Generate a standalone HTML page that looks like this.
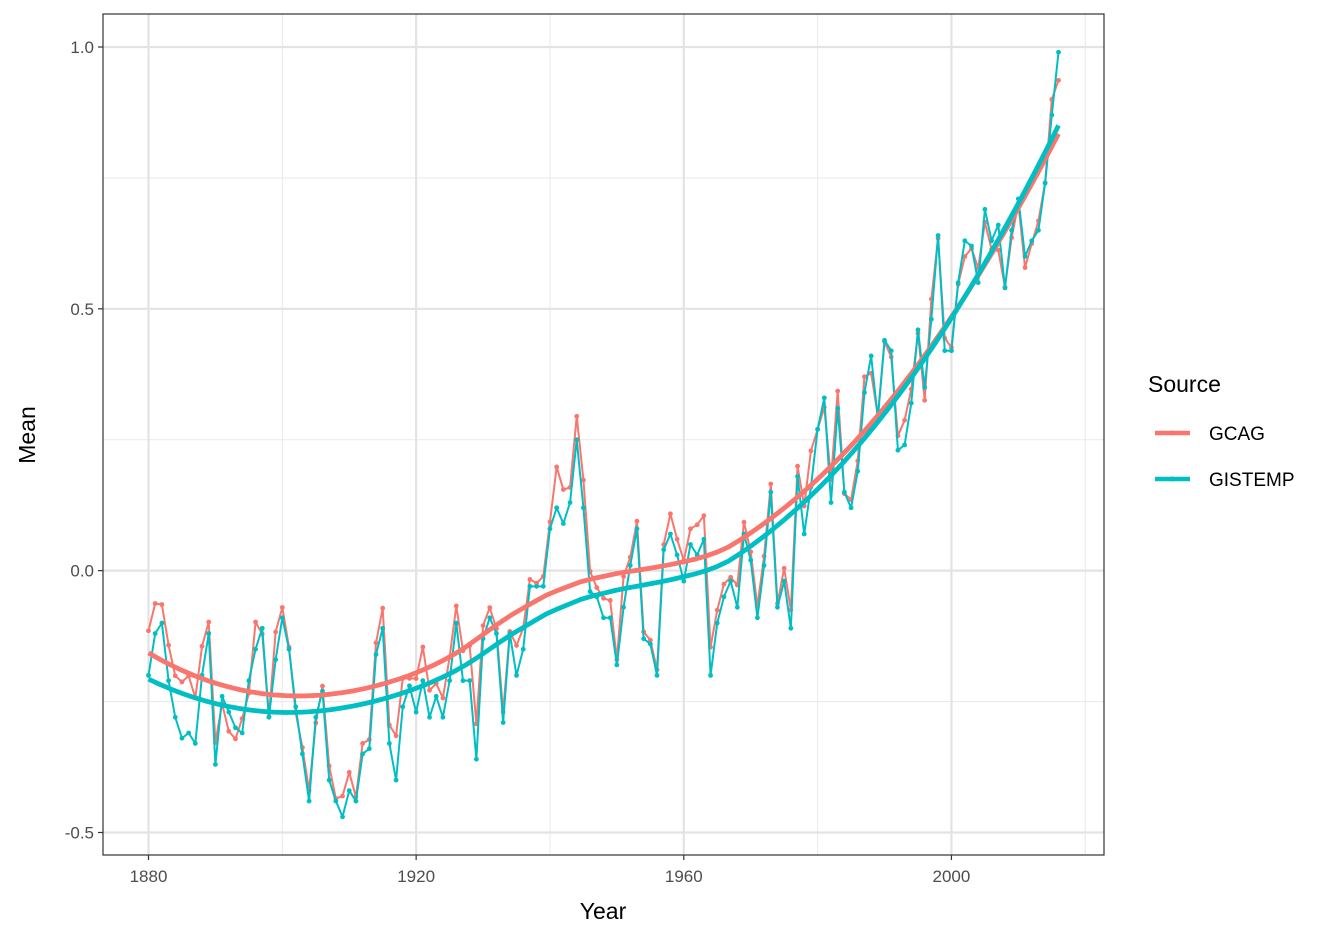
<!DOCTYPE html>
<html><head><meta charset="utf-8">
<style>
body{margin:0;background:#fff;}
svg{display:block;font-family:"Liberation Sans",Arial,sans-serif;}
</style></head>
<body>
<svg id="chart" width="1344" height="940" viewBox="0 0 1344 940">
<rect width="1344" height="940" fill="#fff"/>
<g id="grid"></g>
<g id="series"></g>
<rect x="103" y="14" width="1001" height="841" fill="none" stroke="#333" stroke-width="1.2"/>
<g id="axes"></g>
<text x="603" y="919" font-size="23" text-anchor="middle" fill="#000">Year</text>
<text transform="translate(35,435) rotate(-90)" font-size="23" text-anchor="middle" fill="#000">Mean</text>
<g>
<text x="1148" y="392" font-size="23" fill="#000">Source</text>
<g>
<line x1="1155" y1="433" x2="1190" y2="433" stroke="#F8766D" stroke-width="4.5"/>
<circle cx="1172.5" cy="433" r="2.5" fill="#F8766D"/>
<text x="1209" y="440" font-size="19" fill="#000">GCAG</text>
</g>
<g>
<line x1="1155" y1="479" x2="1190" y2="479" stroke="#00BFC4" stroke-width="4.5"/>
<circle cx="1172.5" cy="479" r="2.5" fill="#00BFC4"/>
<text x="1209" y="486" font-size="19" fill="#000">GISTEMP</text>
</g>
</g>
</svg>
<script>
const startYear = 1880;
const gcag = [-0.1148,-0.0628,-0.0648,-0.1424,-0.2009,-0.2125,-0.2009,-0.2431,-0.1445,-0.0981,-0.3283,-0.2541,-0.3068,-0.3212,-0.2825,-0.2337,-0.0982,-0.1209,-0.2783,-0.1170,-0.0703,-0.1460,-0.2715,-0.3377,-0.4197,-0.2907,-0.2204,-0.3729,-0.4352,-0.4304,-0.3851,-0.4321,-0.3299,-0.3226,-0.1379,-0.0716,-0.2951,-0.3152,-0.2057,-0.2057,-0.2060,-0.1458,-0.2284,-0.2155,-0.2433,-0.1654,-0.0673,-0.1530,-0.1430,-0.2926,-0.1050,-0.0706,-0.1108,-0.2700,-0.1161,-0.1428,-0.1100,-0.0167,-0.0239,-0.0110,0.0931,0.1981,0.1549,0.1590,0.2948,0.1730,-0.0013,-0.0324,-0.0528,-0.0568,-0.1700,-0.0112,0.0256,0.0945,-0.1168,-0.1326,-0.1892,0.0499,0.1085,0.0601,0.0192,0.0799,0.0876,0.1050,-0.1462,-0.0752,-0.0257,-0.0127,-0.0273,0.0926,0.0359,-0.0679,0.0276,0.1655,-0.0629,0.0045,-0.0750,0.1996,0.1236,0.2288,0.2699,0.3120,0.1742,0.3429,0.1470,0.1355,0.2099,0.3703,0.3770,0.2967,0.4370,0.4079,0.2575,0.2871,0.3467,0.4532,0.3253,0.5186,0.6346,0.4440,0.4263,0.5468,0.5998,0.6152,0.5776,0.6654,0.6139,0.6121,0.5415,0.6359,0.7008,0.5788,0.6246,0.6679,0.7408,0.8998,0.9363];
const gistemp = [-0.20,-0.12,-0.10,-0.21,-0.28,-0.32,-0.31,-0.33,-0.20,-0.12,-0.37,-0.24,-0.27,-0.30,-0.31,-0.21,-0.15,-0.11,-0.28,-0.17,-0.09,-0.15,-0.26,-0.35,-0.44,-0.28,-0.23,-0.40,-0.44,-0.47,-0.42,-0.44,-0.35,-0.34,-0.16,-0.11,-0.33,-0.40,-0.26,-0.22,-0.27,-0.21,-0.28,-0.24,-0.28,-0.21,-0.10,-0.21,-0.21,-0.36,-0.13,-0.09,-0.12,-0.29,-0.12,-0.20,-0.15,-0.03,-0.03,-0.03,0.08,0.12,0.09,0.13,0.25,0.12,-0.04,-0.05,-0.09,-0.09,-0.18,-0.07,0.01,0.08,-0.13,-0.14,-0.20,0.04,0.07,0.03,-0.02,0.05,0.03,0.06,-0.20,-0.10,-0.05,-0.02,-0.07,0.07,0.02,-0.09,0.01,0.15,-0.07,-0.02,-0.11,0.18,0.07,0.16,0.27,0.33,0.13,0.31,0.15,0.12,0.19,0.34,0.41,0.29,0.44,0.42,0.23,0.24,0.32,0.46,0.35,0.48,0.64,0.42,0.42,0.55,0.63,0.62,0.55,0.69,0.63,0.66,0.54,0.65,0.71,0.60,0.63,0.65,0.74,0.87,0.99];
const xTicks = [1880,1920,1960,2000];
const xMinor = [1900,1940,1980,2020];
const yTicks = [-0.5,0.0,0.5,1.0];
const yTickLabels = ["-0.5","0.0","0.5","1.0"];
const yMinor = [-0.25,0.25,0.75];

const NS="http://www.w3.org/2000/svg";
const years = gcag.map((_,i)=>startYear+i);
const allV = gcag.concat(gistemp);
const xmin0=years[0], xmax0=years[years.length-1];
const ymin0=Math.min(...allV), ymax0=Math.max(...allV);
const xPad=(xmax0-xmin0)*0.05, yPad=(ymax0-ymin0)*0.05;
const PL=103,PR=1104,PT=14,PB=855;
const X=v=>PL+(v-(xmin0-xPad))/((xmax0+xPad)-(xmin0-xPad))*(PR-PL);
const Y=v=>PB-(v-(ymin0-yPad))/((ymax0+yPad)-(ymin0-yPad))*(PB-PT);
function mk(tag,attrs,parent){const e=document.createElementNS(NS,tag);for(const k in attrs)e.setAttribute(k,attrs[k]);parent.appendChild(e);return e;}
const grid=document.getElementById('grid'), axes=document.getElementById('axes'), series=document.getElementById('series');

yMinor.forEach(v=>{const l=mk('line',{x1:PL,x2:PR,y1:Y(v),y2:Y(v),stroke:'#ebebeb','stroke-width':1.1},grid);

});
xMinor.forEach(v=>{const l=mk('line',{x1:X(v),x2:X(v),y1:PT,y2:PB,stroke:'#ebebeb','stroke-width':1.1},grid);

});
yTicks.forEach((v,i)=>{const l=mk('line',{x1:PL,x2:PR,y1:Y(v),y2:Y(v),stroke:'#e3e3e3','stroke-width':2.2},grid);


const t=mk('line',{x1:PL-5,x2:PL,y1:Y(v),y2:Y(v),stroke:'#333','stroke-width':1.2},axes);


const tx=mk('text',{x:PL-9,y:Y(v)+6,'font-size':17,'text-anchor':'end',fill:'#4d4d4d'},axes);
tx.textContent=yTickLabels[i];

});
xTicks.forEach(v=>{const l=mk('line',{x1:X(v),x2:X(v),y1:PT,y2:PB,stroke:'#e3e3e3','stroke-width':2.2},grid);


const t=mk('line',{x1:X(v),x2:X(v),y1:PB,y2:PB+5,stroke:'#333','stroke-width':1.2},axes);


const tx=mk('text',{x:X(v),y:PB+27,'font-size':17,'text-anchor':'middle',fill:'#4d4d4d'},axes);
tx.textContent=String(v);

});

function loess(xs,ys,span,xq){
  const n=xs.length,q=Math.floor(span*n);
  return xq.map(x0=>{
    const d=xs.map(x=>Math.abs(x-x0));const ds=d.slice().sort((a,b)=>a-b);const h=ds[q-1]*(span>1?span:1)||1;
    let S=[[0,0,0],[0,0,0],[0,0,0]],B=[0,0,0];
    for(let i=0;i<n;i++){let u=d[i]/h;if(u>=1)continue;const w=Math.pow(1-u*u*u,3);const t=xs[i]-x0;const p=[1,t,t*t];
      for(let a=0;a<3;a++){B[a]+=w*p[a]*ys[i];for(let b=0;b<3;b++)S[a][b]+=w*p[a]*p[b];}}
    // solve 3x3
    const M=S.map((r,i)=>r.concat([B[i]]));
    for(let c=0;c<3;c++){let p=c;for(let r=c+1;r<3;r++)if(Math.abs(M[r][c])>Math.abs(M[p][c]))p=r;[M[c],M[p]]=[M[p],M[c]];
      for(let r=0;r<3;r++){if(r===c)continue;const f=M[r][c]/M[c][c];for(let k=c;k<4;k++)M[r][k]-=f*M[c][k];}}
    return M[0][3]/M[0][0];
  });
}
const cols={gcag:'#F8766D',gistemp:'#00BFC4'};
[['gcag',gcag],['gistemp',gistemp]].forEach(([name,vals])=>{
  const p=mk('polyline',{points:vals.map((v,i)=>X(years[i])+','+Y(v)).join(' '),fill:'none',stroke:cols[name],'stroke-width':2,'stroke-linejoin':'round'},series);
  
  
  vals.forEach((v,i)=>{const c=mk('circle',{cx:X(years[i]),cy:Y(v),r:2.4,fill:cols[name]},series);
    
    });
});
[['gcag',gcag],['gistemp',gistemp]].forEach(([name,vals])=>{
  const xq=[];for(let i=0;i<=80;i++)xq.push(xmin0+(xmax0-xmin0)*i/80);
  const sm=loess(years,vals,0.75,xq);
  const p=mk('polyline',{points:xq.map((x,i)=>X(x)+','+Y(sm[i])).join(' '),fill:'none',stroke:cols[name],'stroke-width':4.8,'stroke-linejoin':'round'},series);
  
  
});
</script>
</body></html>
